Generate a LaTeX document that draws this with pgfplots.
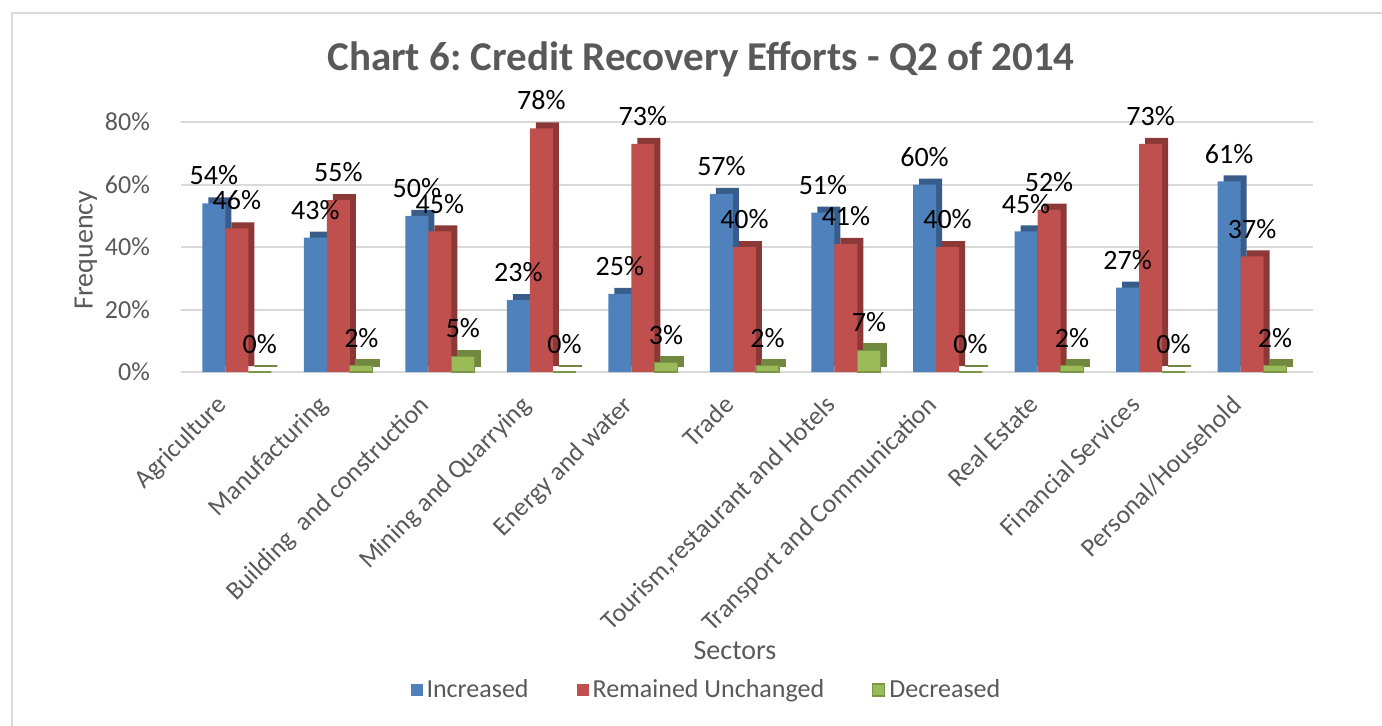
\documentclass[border=0pt]{standalone}
\usepackage{fontspec}
\setmainfont{Carlito}
\usepackage{pgfplots}
\usepackage{pgfplotstable}
\pgfplotsset{compat=1.18}
\frenchspacing

\definecolor{incblue}{HTML}{4F81BD}
\definecolor{incdark}{HTML}{385D8A}
\definecolor{uncred}{HTML}{C0504D}
\definecolor{uncdark}{HTML}{8C3836}
\definecolor{decgreen}{HTML}{9BBB59}
\definecolor{decdark}{HTML}{71893F}
\definecolor{gridgray}{HTML}{D9D9D9}
\definecolor{textgray}{HTML}{595959}
\definecolor{framegray}{HTML}{D9D9D9}

% sector, increased, remained unchanged, decreased (percent)
\pgfplotstableread{
x inc unc dec
0  54 46 0
1  43 55 2
2  50 45 5
3  23 78 0
4  25 73 3
5  57 40 2
6  51 41 7
7  60 40 0
8  45 52 2
9  27 73 0
10 61 37 2
}\credit

\begin{document}
\begin{tikzpicture}
\path[use as bounding box] (0,0) rectangle (691pt,362.5pt);
\draw[framegray, line width=1.2pt] (6pt,-2pt) -- (6pt,356pt) -- (693pt,356pt);

\begin{axis}[
  at={(90.5pt,176.5pt)}, anchor=south west,
  scale only axis, width=566pt, height=125pt,
  xmin=-0.55, xmax=10.6, ymin=0, ymax=80,
  xtick={0,...,10},
  xticklabels={Agriculture, Manufacturing, Building\ \ and construction,
    Mining and Quarrying, Energy and water, Trade,
    {Tourism,restaurant and Hotels}, Transport and Communication,
    Real Estate, Financial Services, Personal/Household},
  ytick={0,20,...,80},
  yticklabel={\pgfmathprintnumber{\tick}\%},
  /pgf/number format/assume math mode=true,
  ymajorgrids, grid style={gridgray, line width=1pt},
  axis line style={draw=none}, major tick length=0pt,
  clip=false,
  tick label style={font=\fontsize{13}{13}\selectfont, text=textgray},
  yticklabel style={xshift=-12pt},
  xticklabel style={xshift=-11pt, yshift=-6pt, rotate=45, anchor=north east},
  legend columns=3,
  legend style={at={(0.465,-1.272)}, anchor=center, draw=none,
    font=\fontsize{13}{13}\selectfont, text=textgray,
    /tikz/every even column/.append style={column sep=22pt}},
  legend image code/.code={\fill[#1] (0pt,-3pt) rectangle (6pt,3pt);},
  every node near coord/.append style={font=\fontsize{14}{14}\selectfont,
    text=black, yshift=5.5pt},
]
% blue
\addplot[ybar, bar width=11.5pt, bar shift=-8.5pt, yshift=3pt,
  fill=incdark, draw=none, forget plot] table[x=x, y=inc] {\credit};
\addplot[ybar, bar width=11.5pt, bar shift=-11.5pt, fill=incblue, draw=none,
  nodes near coords={\pgfmathprintnumber{\pgfplotspointmeta}\%},
  every node near coord/.append style={xshift=-11.5pt}]
  table[x=x, y=inc] {\credit};
\addlegendentry{Increased}
% red
\addplot[ybar, bar width=11.5pt, bar shift=3pt, yshift=3pt,
  fill=uncdark, draw=none, forget plot] table[x=x, y=unc] {\credit};
\addplot[ybar, bar width=11.5pt, bar shift=0pt, fill=uncred, draw=none,
  nodes near coords={\pgfmathprintnumber{\pgfplotspointmeta}\%}]
  table[x=x, y=unc] {\credit};
\addlegendentry{Remained Unchanged}
% green
\addplot[ybar, bar width=11.5pt, bar shift=14.5pt, yshift=3pt,
  fill=decdark, draw=decdark, line width=0.8pt, forget plot]
  table[x=x, y=dec] {\credit};
\addplot[ybar, bar width=11.5pt, bar shift=11.5pt, fill=decgreen,
  draw=decgreen!80!black, line width=0.6pt,
  nodes near coords={\pgfmathprintnumber{\pgfplotspointmeta}\%},
  every node near coord/.append style={xshift=11.5pt}]
  table[x=x, y=dec] {\credit};
\addlegendentry{Decreased}
\end{axis}

\node[font=\bfseries\fontsize{20.5}{24}\selectfont, text=textgray]
  at (350.5pt,333pt) {Chart 6: Credit Recovery Efforts - Q2 of 2014};
\node[font=\fontsize{14}{14}\selectfont, text=textgray, rotate=90]
  at (43pt,237.5pt) {Frequency};
\node[font=\fontsize{14}{14}\selectfont, text=textgray]
  at (367.5pt,37pt) {Sectors};
\end{tikzpicture}
\end{document}
